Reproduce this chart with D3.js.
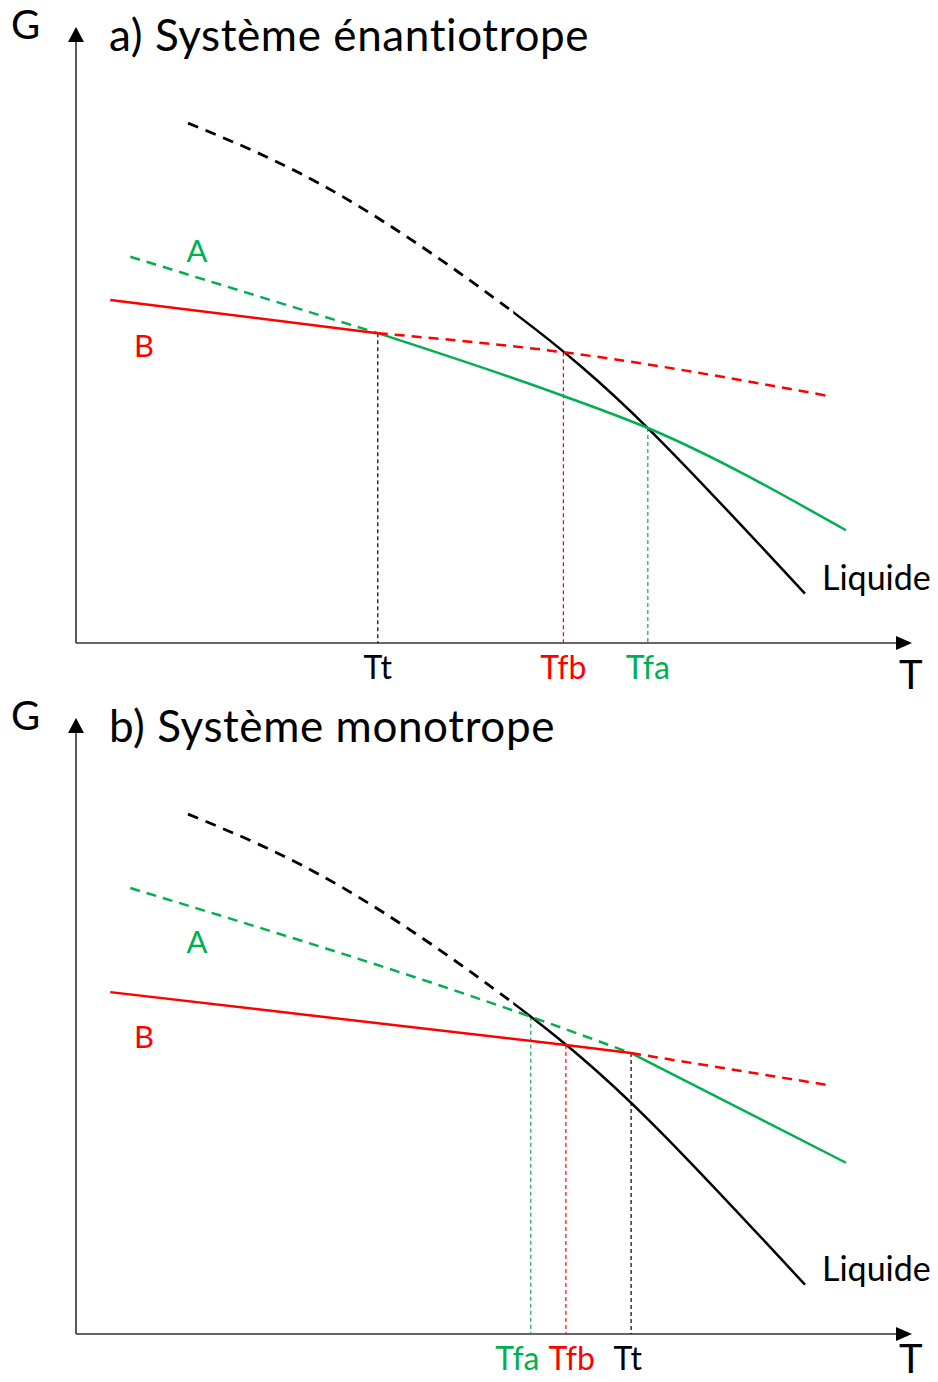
<!DOCTYPE html>
<html>
<head>
<meta charset="utf-8">
<script src="https://cdn.jsdelivr.net/npm/d3@7"></script>
<style>
  body { margin: 0; background: #fff; }
  svg { display: block; font-family: Lato, "Open Sans", sans-serif; font-variant-ligatures: none; }
</style>
</head>
<body>
<div id="chart"></div>
<script>
// Courbes G(T) (T et G en unités arbitraires 0-100)
const liquide = [[13.4, 84.4], [31.6, 72.7], [52.3, 53.7], [68.4, 34.9], [87.2, 8.0]];
const liquideSplit = 52.3; // pointillé avant, trait plein après

// a) énantiotrope
const aA_dash = [[6.5, 62.7], [36.1, 50.3]];
const aA_solid = [[36.1, 50.3], [57.9, 40.3], [68.4, 34.9], [92.1, 18.3]];
const aB_solid = [[4.1, 55.7], [36.1, 50.3]];
const aB_dash = [[36.1, 50.3], [58.3, 47.2], [90.0, 40.1]];
const aTicks = ["Tt", "Tfb", "Tfa"];
const aTickT = [36.1, 58.3, 68.4];
const aTickG = [50.3, 47.2, 34.9];

// b) monotrope
const bA_dash = [[6.5, 72.4], [54.4, 51.5], [66.4, 45.6]];
const bA_solid = [[66.4, 45.6], [92.1, 27.8]];
const bB_solid = [[4.1, 55.5], [58.6, 46.9], [66.4, 45.6]];
const bB_dash = [[66.4, 45.6], [90.0, 40.4]];
const bTicks = ["Tfa", "Tfb", "Tt"];
const bTickT = [54.4, 58.6, 66.4];
const bTickG = [51.5, 46.9, 45.6];

const colors = { A: "#00B050", B: "#FF0000", L: "#000000", Tt: "#000000", Tfb: "#FF0000", Tfa: "#00B050" };

const W = 938, H = 1382;
const svg = d3.select("#chart").append("svg")
    .attr("width", W)
    .attr("height", H);

const x = d3.scaleLinear().domain([0, 100]).range([76, 912]);
const y = d3.scaleLinear().domain([0, 100]).range([643, 27]);

const line = d3.line()
    .x(d => x(d[0]))
    .y(d => y(d[1]))
    .curve(d3.curveMonotoneX);

const liqLine = d3.line()
    .x(d => x(d[0]))
    .y(d => y(d[1]))
    .curve(d3.curveNatural);

const defs = svg.append("defs");
defs.append("clipPath").attr("id", "clipLeft")
    .append("rect").attr("x", 0).attr("y", 0)
    .attr("width", x(liquideSplit)).attr("height", 700);
defs.append("clipPath").attr("id", "clipRight")
    .append("rect").attr("x", x(liquideSplit)).attr("y", 0)
    .attr("width", W - x(liquideSplit)).attr("height", 700);

function drawPanel(g, p) {
    // axes avec flèches
    g.append("line")
        .attr("x1", x(0)).attr("y1", y(0))
        .attr("x2", x(0)).attr("y2", y(100) + 12)
        .attr("stroke", "#333").attr("stroke-width", 1.6);
    g.append("line")
        .attr("x1", x(0)).attr("y1", y(0))
        .attr("x2", x(100) - 12).attr("y2", y(0))
        .attr("stroke", "#333").attr("stroke-width", 1.6);
    g.append("path")
        .attr("d", `M${x(0)},${y(100)} L${x(0) - 8},${y(100) + 15} L${x(0) + 8},${y(100) + 15} Z`)
        .attr("fill", "#000");
    g.append("path")
        .attr("d", `M${x(100)},${y(0)} L${x(100) - 16},${y(0) - 7} L${x(100) - 16},${y(0) + 7} Z`)
        .attr("fill", "#000");

    g.append("text").attr("x", 11).attr("y", 39)
        .attr("font-size", 40).text("G");
    g.append("text").attr("x", 899).attr("y", p.tBase)
        .attr("font-size", 40).text("T");
    g.append("text").attr("x", 109).attr("y", 51)
        .attr("font-size", 44).attr("letter-spacing", 0.6).text(p.title);

    // traits verticaux
    p.ticks.forEach((t, i) => {
        g.append("line")
            .attr("x1", x(p.tickT[i])).attr("x2", x(p.tickT[i]))
            .attr("y1", y(p.tickG[i])).attr("y2", y(0))
            .attr("stroke", colors[t]).attr("stroke-width", 1.2)
            .attr("stroke-dasharray", "4 3");
        g.append("text")
            .attr("x", x(p.labelT[i])).attr("y", 679)
            .attr("text-anchor", "middle")
            .attr("font-size", 32)
            .attr("fill", colors[t])
            .text(t);
    });

    // liquide : même courbe, pointillée à gauche, pleine à droite
    g.append("path").attr("d", liqLine(liquide))
        .attr("clip-path", "url(#clipLeft)")
        .attr("fill", "none").attr("stroke", colors.L).attr("stroke-width", 2.8)
        .attr("stroke-dasharray", "11 8");
    g.append("path").attr("d", liqLine(liquide))
        .attr("clip-path", "url(#clipRight)")
        .attr("fill", "none").attr("stroke", colors.L).attr("stroke-width", 2.5);

    // phases A et B
    [[p.A_dash, "A", true], [p.A_solid, "A", false], [p.B_solid, "B", false], [p.B_dash, "B", true]]
        .forEach(([pts, k, dashed]) => {
            g.append("path").attr("d", line(pts))
                .attr("fill", "none").attr("stroke", colors[k]).attr("stroke-width", 2.5)
                .attr("stroke-dasharray", dashed ? "10 7" : null);
        });

    g.append("text").attr("x", 197).attr("y", 262).attr("text-anchor", "middle")
        .attr("font-size", 31).attr("fill", colors.A).text("A");
    g.append("text").attr("x", 144).attr("y", 357).attr("text-anchor", "middle")
        .attr("font-size", 31).attr("fill", colors.B).text("B");
    g.append("text").attr("x", 822).attr("y", 590)
        .attr("font-size", 34).attr("fill", "#000").text("Liquide");
}

drawPanel(svg.append("g"), {
    title: "a) Système énantiotrope",
    A_dash: aA_dash, A_solid: aA_solid, B_solid: aB_solid, B_dash: aB_dash,
    ticks: aTicks, tickT: aTickT, tickG: aTickG, labelT: aTickT, tBase: 689
});

drawPanel(svg.append("g").attr("transform", "translate(0,691)"), {
    title: "b) Système monotrope",
    A_dash: bA_dash, A_solid: bA_solid, B_solid: bB_solid, B_dash: bB_dash,
    ticks: bTicks, tickT: bTickT, tickG: bTickG, labelT: [52.8, 59.3, 66.0], tBase: 682
});
</script>
</body>
</html>
